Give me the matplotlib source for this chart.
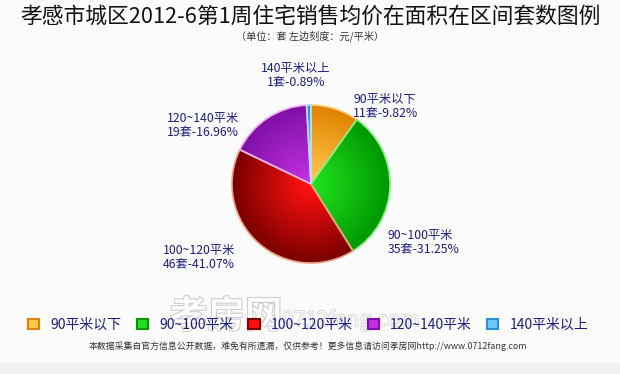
import numpy as np
import matplotlib.pyplot as plt
from matplotlib.colors import to_rgb
from matplotlib.patches import Rectangle
import matplotlib.patheffects as pe

plt.rcParams['font.family'] = ['Noto Sans CJK SC', 'DejaVu Sans']

categories = ['90平米以下', '90~100平米', '100~120平米', '120~140平米', '140平米以上']
legend_labels = ['90平米以下', '90~100平米', '100~120平米', '120~140平米', '140平米以上']
counts = [11, 35, 46, 19, 1]
percents = ['9.82%', '31.25%', '41.07%', '16.96%', '0.89%']

# edge (dark) and centre (light) colours of each slice
dark_cols = ['#e08400', '#009800', '#7a0000', '#8010a8', '#2a90d8']
light_cols = ['#ffc850', '#20e020', '#ff1010', '#c030e0', '#70c8f8']
rim_cols = ['#ffd080', '#80f080', '#f0a080', '#f0b0f0', '#b0e0ff']

# label anchor in pixels from top-left, and alignment
label_pos = [(353, 93, 'left'), (388, 229, 'left'), (163, 244, 'left'),
             (167, 112, 'left'), (296, 62, 'center')]

text_col = '#1c1c80'
W, H = 620, 374

fig = plt.figure(figsize=(6.2, 3.74), dpi=100)
fig.patch.set_facecolor('#fbfbfb')
fig.patches.append(Rectangle((0, 0), 1, 11 / H, transform=fig.transFigure,
                             facecolor='#f1f1f1', edgecolor='none', zorder=0))

fig.text(0.5, 0.955, '孝感市城区2012-6第1周住宅销售均价在面积在区间套数图例',
         ha='center', va='center', fontsize=15.7, fontweight='medium', color='#111111')
fig.text(0.5, 0.904, '（单位：套 左边刻度：元/平米）', ha='center', va='center',
         fontsize=7.3, color='#333333')

# axes in pixel units so the pie keeps a true circle
ax = fig.add_axes([0, 0, 1, 1])
ax.set_xlim(0, W)
ax.set_ylim(0, H)
ax.set_aspect('equal')
ax.axis('off')

cx, cy, R = 311, H - 184, 79
# radial gradient by stacking pies of shrinking radius
n = 30
for i in range(n):
    t = i / (n - 1)
    cols = [tuple((1 - t) * np.array(to_rgb(d)) + t * np.array(to_rgb(l)))
            for d, l in zip(dark_cols, light_cols)]
    ax.pie(counts, colors=cols, startangle=90, counterclock=False,
           radius=R * (1.0 - 0.92 * t), center=(cx, cy),
           wedgeprops=dict(linewidth=0), normalize=True, frame=True)
wedges, _ = ax.pie(counts, colors=rim_cols, startangle=90, counterclock=False,
                   radius=R, center=(cx, cy), normalize=True, frame=True)
for w, c in zip(wedges, rim_cols):
    w.set_facecolor('none')
    w.set_edgecolor(c)
    w.set_linewidth(1.2)
ax.set_xlim(0, W)
ax.set_ylim(0, H)
ax.axis('off')

for cat, cnt, pct, (x, y, ha) in zip(categories, counts, percents, label_pos):
    ax.text(x, H - y, f'{cat}\n{cnt}套-{pct}', ha=ha, va='top',
            fontsize=8.8, color=text_col, linespacing=1.0)

# watermark (behind the legend)
fig.text(0.274, 0.155, '孝房网', fontsize=27, fontweight='bold', color='white', alpha=0.8,
         path_effects=[pe.withStroke(linewidth=1.2, foreground='#bbbbbb')], va='center', zorder=1)
fig.text(0.455, 0.145, '0712fang.com', fontsize=15, color='white', alpha=0.8, va='center', zorder=1,
         path_effects=[pe.withStroke(linewidth=1.0, foreground='#c8c8c8')])

handles = [Rectangle((0, 0), 1, 1, facecolor=l, edgecolor=d, linewidth=1.5)
           for d, l in zip(dark_cols, light_cols)]
leg = fig.legend(handles, legend_labels, loc='center', bbox_to_anchor=(0.497, 0.131), ncol=5,
                 frameon=False, fontsize=10, handlelength=0.8, handleheight=0.8,
                 handletextpad=0.8, columnspacing=1.1)
leg.set_zorder(3)
for t in leg.get_texts():
    t.set_color(text_col)

fig.text(0.497, 0.075, '本数据采集自官方信息公开数据，难免有所遗漏，仅供参考！更多信息请访问孝房网http://www.0712fang.com',
         ha='center', va='center', fontsize=6.4, color='#333333')

fig.savefig('out.png', dpi=100, facecolor=fig.get_facecolor())
